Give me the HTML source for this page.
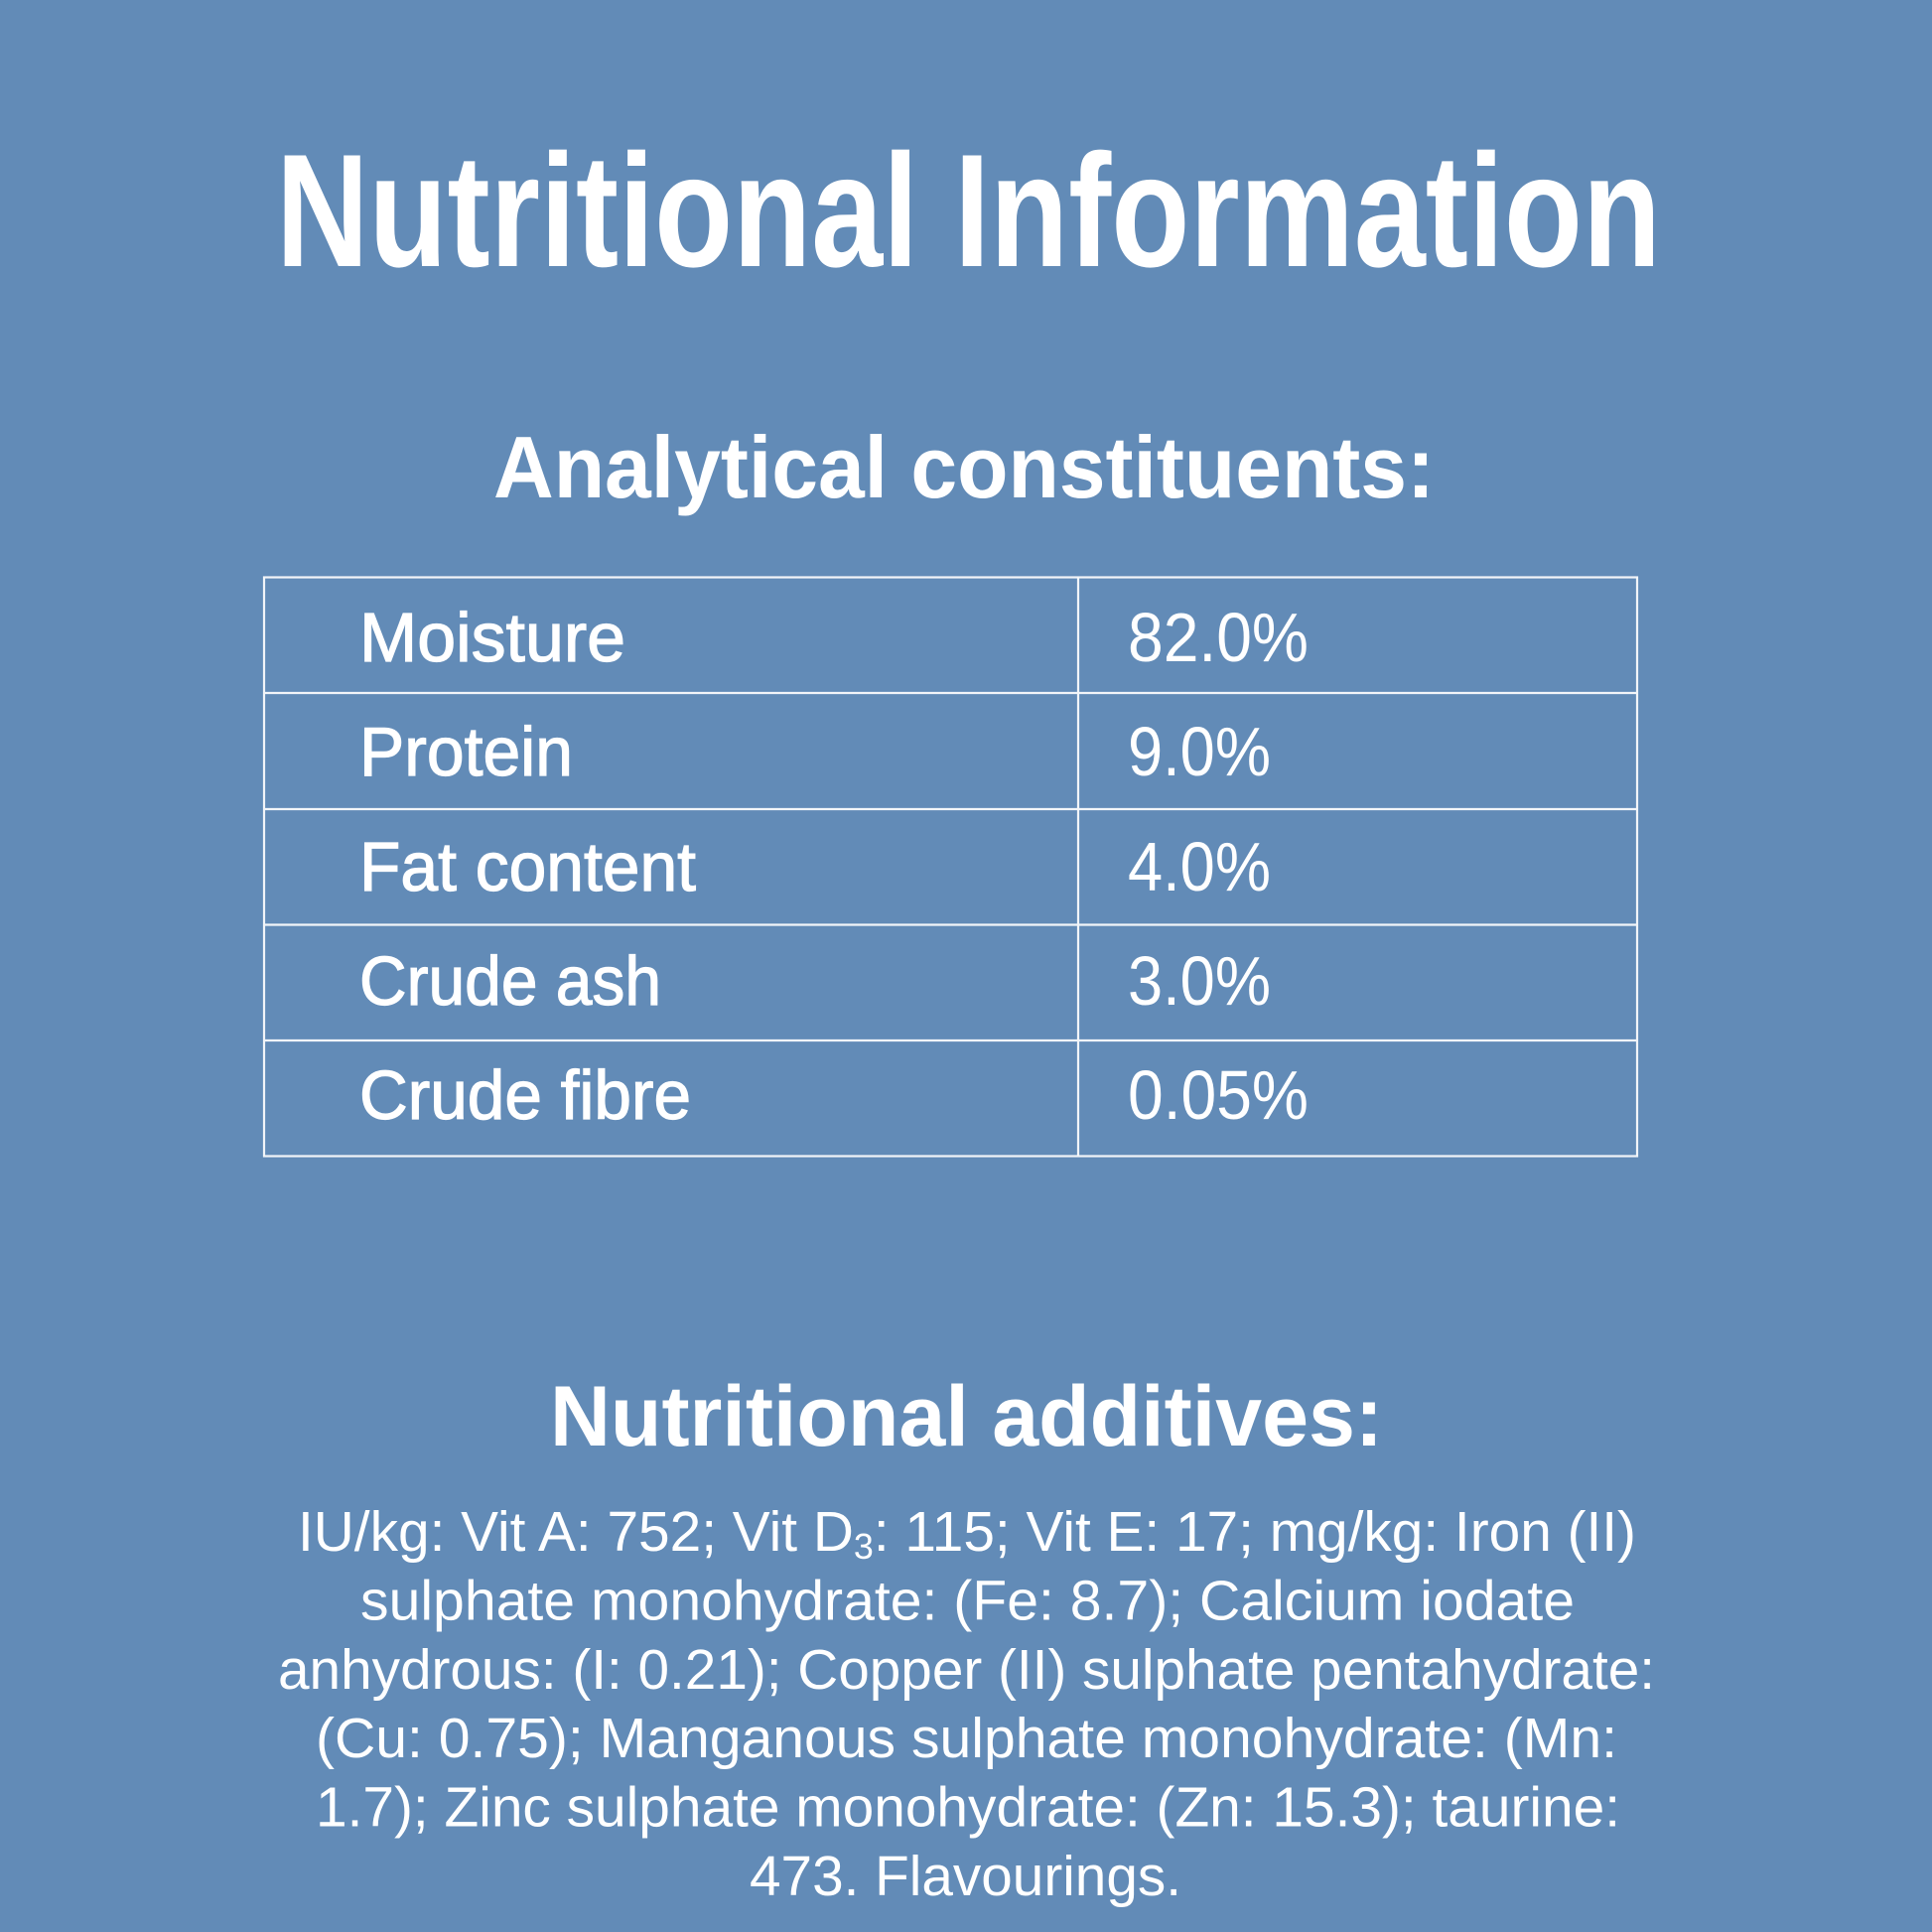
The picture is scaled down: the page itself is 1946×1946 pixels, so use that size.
<!DOCTYPE html>
<html>
<head>
<meta charset="utf-8">
<style>
  html,body{margin:0;padding:0;background:#628bb7;}
  svg{display:block;}
</style>
</head>
<body>
<svg width="1946" height="1946" viewBox="0 0 1946 1946" xmlns="http://www.w3.org/2000/svg">
  <rect x="0" y="0" width="1946" height="1946" fill="#628bb7"/>

  <!-- Title -->
  <text x="278" y="268" font-family="Liberation Sans, sans-serif" font-weight="bold" font-size="162" fill="#ffffff" textLength="1395" lengthAdjust="spacingAndGlyphs">Nutritional Information</text>

  <!-- Analytical constituents -->
  <text x="497" y="501" font-family="Liberation Sans, sans-serif" font-weight="bold" font-size="88" fill="#ffffff" textLength="948" lengthAdjust="spacingAndGlyphs">Analytical constituents:</text>

  <!-- Table -->
  <g stroke="#f2f5f9" stroke-width="2.2" fill="none">
    <rect x="266" y="581.5" width="1383" height="583"/>
    <line x1="1086" y1="581.5" x2="1086" y2="1164.5"/>
    <line x1="266" y1="698" x2="1649" y2="698"/>
    <line x1="266" y1="815" x2="1649" y2="815"/>
    <line x1="266" y1="931.5" x2="1649" y2="931.5"/>
    <line x1="266" y1="1048" x2="1649" y2="1048"/>
  </g>

  <g font-family="Liberation Sans, sans-serif" font-size="70" fill="#ffffff" stroke="#ffffff" stroke-width="1.2">
    <text x="362" y="666" textLength="268" lengthAdjust="spacingAndGlyphs">Moisture</text>
    <text x="362" y="781" textLength="215" lengthAdjust="spacingAndGlyphs">Protein</text>
    <text x="362" y="897" textLength="339" lengthAdjust="spacingAndGlyphs">Fat content</text>
    <text x="362" y="1012" textLength="304" lengthAdjust="spacingAndGlyphs">Crude ash</text>
    <text x="362" y="1127" textLength="334" lengthAdjust="spacingAndGlyphs">Crude fibre</text>
  </g>
  <g font-family="Liberation Sans, sans-serif" font-size="70" fill="#ffffff">
    <text x="1136" y="666" textLength="182" lengthAdjust="spacingAndGlyphs">82.0%</text>
    <text x="1136" y="781" textLength="144" lengthAdjust="spacingAndGlyphs">9.0%</text>
    <text x="1136" y="897" textLength="144" lengthAdjust="spacingAndGlyphs">4.0%</text>
    <text x="1136" y="1012" textLength="144" lengthAdjust="spacingAndGlyphs">3.0%</text>
    <text x="1136" y="1127" textLength="182" lengthAdjust="spacingAndGlyphs">0.05%</text>
  </g>

  <!-- Nutritional additives -->
  <text x="554" y="1456" font-family="Liberation Sans, sans-serif" font-weight="bold" font-size="86" fill="#ffffff" textLength="839" lengthAdjust="spacingAndGlyphs">Nutritional additives:</text>

  <g font-family="Liberation Sans, sans-serif" font-size="57" fill="#ffffff">
    <text x="300" y="1562" textLength="1348" lengthAdjust="spacingAndGlyphs">IU/kg: Vit A: 752; Vit D<tspan font-size="36" dy="8">3</tspan><tspan dy="-8">: 115; Vit E: 17; mg/kg: Iron (II)</tspan></text>
    <text x="363" y="1631.5" textLength="1223" lengthAdjust="spacingAndGlyphs">sulphate monohydrate: (Fe: 8.7); Calcium iodate</text>
    <text x="280" y="1701" textLength="1387" lengthAdjust="spacingAndGlyphs">anhydrous: (I: 0.21); Copper (II) sulphate pentahydrate:</text>
    <text x="318" y="1770" textLength="1311" lengthAdjust="spacingAndGlyphs">(Cu: 0.75); Manganous sulphate monohydrate: (Mn:</text>
    <text x="318" y="1839.5" textLength="1314" lengthAdjust="spacingAndGlyphs">1.7); Zinc sulphate monohydrate: (Zn: 15.3); taurine:</text>
    <text x="755" y="1909" textLength="435" lengthAdjust="spacingAndGlyphs">473. Flavourings.</text>
  </g>
</svg>
</body>
</html>
